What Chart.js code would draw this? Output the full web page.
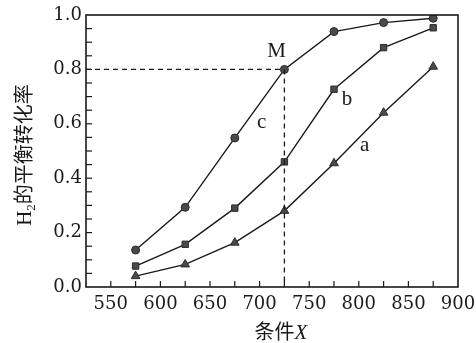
<!DOCTYPE html>
<html>
<head>
<meta charset="utf-8">
<script src="https://cdn.jsdelivr.net/npm/chart.js@4"></script>
<style>
	html, body { margin: 0; padding: 0; background: #fff; }
	#wrap { width: 476px; height: 343px; }
</style>
</head>
<body>
<div id="wrap"><canvas id="conv"></canvas></div>
<script>
// condition X values
const xValues = [575, 625, 675, 725, 775, 825, 875];
// equilibrium conversion of H2 for each curve
const curveC = [0.136, 0.293, 0.548, 0.8, 0.939, 0.972, 0.988];
const curveB = [0.077, 0.157, 0.29, 0.46, 0.727, 0.88, 0.953];
const curveA = [0.04, 0.083, 0.163, 0.28, 0.455, 0.641, 0.81];
// point M on curve c
const pointM = { x: 725, y: 0.8 };
// curve labels (placed in data units)
const curveLabels = [
	{ text: "M", x: 717, y: 0.865 },
	{ text: "c", x: 702, y: 0.605 },
	{ text: "b", x: 788, y: 0.69 },
	{ text: "a", x: 806, y: 0.52 },
];

const serif = "'DejaVu Serif', 'Liberation Serif', serif";
const letterFont = "'Liberation Serif', serif";
const ink = "#1a1a1a";
const markFill = "#4a4a4a";

function pairs(ys) {
	return xValues.map((x, i) => ({ x: x, y: ys[i] }));
}

function series(label, ys, style, size) {
	return {
		label: label,
		data: pairs(ys),
		borderColor: ink,
		borderWidth: 1.4,
		pointStyle: style,
		pointRadius: size,
		pointBackgroundColor: markFill,
		pointBorderColor: "#2a2a2a",
		pointBorderWidth: 1,
		tension: 0,
	};
}

// inward tick marks, dashed guide lines, curve letters, axis titles
const extras = {
	id: "extras",
	afterDatasetsDraw(chart) {
		const ctx = chart.ctx;
		const xs = chart.scales.x;
		const ys = chart.scales.y;
		const area = chart.chartArea;
		ctx.save();
		// frame
		ctx.strokeStyle = ink;
		ctx.lineWidth = 1.6;
		ctx.strokeRect(area.left, area.top, area.right - area.left, area.bottom - area.top);
		// x ticks (inside, every 25)
		ctx.lineWidth = 1.2;
		for (let v = 550; v < 900; v += 25) {
			const px = xs.getPixelForValue(v);
			ctx.beginPath();
			ctx.moveTo(px, area.bottom);
			ctx.lineTo(px, area.bottom - 6);
			ctx.stroke();
		}
		// y ticks (inside, every 0.05)
		for (let k = 1; k < 20; k++) {
			const py = ys.getPixelForValue(k * 0.05);
			ctx.beginPath();
			ctx.moveTo(area.left, py);
			ctx.lineTo(area.left + 6, py);
			ctx.stroke();
		}
		// dashed lines to M
		const mx = xs.getPixelForValue(pointM.x);
		const my = ys.getPixelForValue(pointM.y);
		ctx.setLineDash([5, 4]);
		ctx.lineWidth = 1.3;
		ctx.beginPath();
		ctx.moveTo(area.left, my);
		ctx.lineTo(mx, my);
		ctx.moveTo(mx, my);
		ctx.lineTo(mx, area.bottom);
		ctx.stroke();
		ctx.setLineDash([]);
		// curve letters
		ctx.fillStyle = ink;
		ctx.font = "21px " + letterFont;
		ctx.textAlign = "center";
		ctx.textBaseline = "middle";
		curveLabels.forEach((l) => {
			ctx.fillText(l.text, xs.getPixelForValue(l.x), ys.getPixelForValue(l.y));
		});
		// x title: 条件X
		ctx.textBaseline = "alphabetic";
		ctx.textAlign = "left";
		const w1 = 40;
		ctx.font = "italic 21px " + letterFont;
		const w2 = ctx.measureText("X").width;
		let sx = 281 - (w1 + w2) / 2;
		ctx.font = "20px 'Noto Sans CJK SC', sans-serif";
		ctx.fillText("条件", sx, 339);
		ctx.font = "italic 21px " + letterFont;
		ctx.fillText("X", sx + w1, 339);
		// y title: H2的平衡转化率 (rotated)
		ctx.translate(31, 155);
		ctx.rotate(-Math.PI / 2);
		ctx.font = "21px " + letterFont;
		const wH = ctx.measureText("H").width;
		ctx.font = "13px " + letterFont;
		const w2s = ctx.measureText("2").width;
		ctx.font = "20px 'Noto Sans CJK SC', sans-serif";
		const wT = ctx.measureText("的平衡转化率").width;
		let tx = -(wH + w2s + wT) / 2;
		ctx.font = "21px " + letterFont;
		ctx.fillText("H", tx, 0);
		ctx.font = "13px " + letterFont;
		ctx.fillText("2", tx + wH, 4);
		ctx.font = "20px 'Noto Sans CJK SC', sans-serif";
		ctx.fillText("的平衡转化率", tx + wH + w2s, 0);
		ctx.restore();
	},
};

new Chart(document.getElementById("conv"), {
	type: "line",
	data: {
		datasets: [
			series("c", curveC, "circle", 4),
			series("b", curveB, "rect", 4.5),
			series("a", curveA, "triangle", 5),
		],
	},
	options: {
		responsive: true,
		maintainAspectRatio: false,
		animation: false,
		layout: { padding: { top: 15, right: 18, left: 0, bottom: 0 } },
		plugins: {
			legend: { display: false },
			tooltip: { enabled: false },
		},
		scales: {
			x: {
				type: "linear",
				min: 525,
				max: 900,
				grid: { display: false, drawTicks: false },
				border: { display: false },
				afterFit: (s) => {
					s.height = 56;
					s.paddingLeft = 0;
					s.paddingRight = 0;
				},
				ticks: {
					stepSize: 25,
					autoSkip: false,
					maxRotation: 0,
					padding: 7,
					color: ink,
					font: { family: serif, size: 18 },
					callback: (v) => (v % 50 === 0 ? String(v) : ""),
				},
			},
			y: {
				min: 0,
				max: 1,
				grid: { display: false, drawTicks: false },
				border: { display: false },
				afterFit: (s) => {
					s.width = 86;
					s.paddingTop = 0;
					s.paddingBottom = 0;
				},
				ticks: {
					stepSize: 0.2,
					padding: 4,
					color: ink,
					font: { family: serif, size: 18 },
					callback: (v) => v.toFixed(1),
				},
			},
		},
	},
	plugins: [extras],
});
</script>
</body>
</html>
